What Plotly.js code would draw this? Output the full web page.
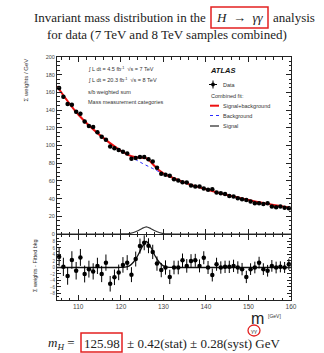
<!DOCTYPE html>
<html>
<head>
<meta charset="utf-8">
<script src="https://cdn.plot.ly/plotly-3.0.1.min.js"></script>
<style>html,body{margin:0;padding:0;background:#fff;}#chart{width:324px;height:353px;}</style>
</head>
<body>
<div id="chart"></div>
<script>
// ---- data ----
const massBins = [105.5,106.5,107.5,108.5,109.5,110.5,111.5,112.5,113.5,114.5,115.5,116.5,117.5,118.5,119.5,120.5,121.5,122.5,123.5,124.5,125.5,126.5,127.5,128.5,129.5,130.5,131.5,132.5,133.5,134.5,135.5,136.5,137.5,138.5,139.5,140.5,141.5,142.5,143.5,144.5,145.5,146.5,147.5,148.5,149.5,150.5,151.5,152.5,153.5,154.5,155.5,156.5,157.5,158.5,159.5];
const sumWeights = [165,155,147,146,138,136,127,122,121,115,110,106.5,99,97,95,93,91,85,86,87,87,84.6,82,75,68,67,65.7,62,60.4,58.5,58.2,54.8,53.6,53.6,51.4,49.9,50.6,46.8,46.1,45.3,43,42.3,40.4,39.3,38.5,36.6,34.7,34.7,34,34.7,31,30.2,31,29.8,29];
const sumWeightsErr = [2.2,2.1,2.1,2.1,2,2,2,1.9,1.9,1.9,1.8,1.8,1.8,1.7,1.7,1.7,1.7,1.6,1.6,1.6,1.6,1.6,1.6,1.5,1.5,1.5,1.5,1.5,1.4,1.4,1.4,1.4,1.4,1.4,1.3,1.3,1.3,1.3,1.3,1.3,1.3,1.2,1.2,1.2,1.2,1.2,1.2,1.2,1.2,1.2,1.1,1.1,1.1,1.1,1.1];
const residuals = [3.3,0.2,-2.6,2.3,-1.0,3.1,-2.0,-0.5,-1.2,0.5,-2.0,1.5,-5.0,-3.0,-1.5,0.8,1.5,-2.2,2.6,6.6,7.6,6.7,4.8,1.2,-0.8,0.0,-2.9,0.0,0.0,2.2,0.5,2.0,2.2,0.5,3.0,0.0,-2.3,1.0,0.0,0.2,0.2,0.5,0.0,-0.5,-2.9,-0.5,0.0,1.5,-0.5,-1.0,0.5,0.0,0.2,0.0,1.0];
const residualsErr = [2.8,2.8,2.7,2.7,2.7,2.6,2.6,2.6,2.5,2.5,2.5,2.5,2.4,2.4,2.4,2.4,2.3,2.3,2.3,2.3,2.3,2.3,2.2,2.2,2.2,2.2,2.2,2.1,2.1,2.1,2.1,2.1,2.0,2.0,2.0,2.0,2.0,2.0,1.9,1.9,1.9,1.9,1.9,1.9,1.9,1.8,1.8,1.8,1.8,1.8,1.8,1.8,1.7,1.7,1.7];

const bkgMass = [105,107.5,110,112.5,115,117.5,120,122.5,125,127.5,130,135,140,145,150,155,160];
const bkgValue = [167,150,135,123,112,102.5,94,86.9,80,74,68,58,50.5,44,38.5,33.5,29.5];
const sbMass = [105,110,115,120,121,122,123,124,125,126,127,128,129,130,131,135,140,145,150,155,160];
const sbValue = [167,135,112,94.1,91.3,88.8,87.2,86.5,86.3,85.6,81.5,76.5,72.1,68.5,66.1,58,50.5,44,38.5,33.5,29.5];
const sigMass = [105,119,120,121,122,123,124,125,126,127,128,129,130,131,132,133,160];
const sigValue = [0,0,0.02,0.1,0.5,1.7,3.7,6.3,8,6.3,3.7,1.7,0.5,0.1,0.02,0,0];

const xTickVals = [110,120,130,140,150,160];
const xTickText = ['110','120','130','140','150','160'];
const resTickVals = [-8,-6,-4,-2,0,2,4,6,8];

// ---- pixel helpers for decorations ----
const PL = 57, PR = 291, PT = 57, PB = 300;
const fx = p => (p - PL) / (PR - PL);
const fy = p => (PB - p) / (PB - PT);

const serif = 'Liberation Serif, Times New Roman, serif';
const sans = 'Liberation Sans, Arial, sans-serif';

const traces = [
  {x: bkgMass, y: bkgValue, xaxis: 'x2', yaxis: 'y2', mode: 'lines', line: {color: '#2b2bff', width: 1, dash: 'dot', shape: 'spline'}, hoverinfo: 'skip'},
  {x: sbMass, y: sbValue, xaxis: 'x2', yaxis: 'y2', mode: 'lines', line: {color: '#ee1111', width: 2, shape: 'spline'}, hoverinfo: 'skip'},
  {x: sigMass, y: sigValue, xaxis: 'x2', yaxis: 'y2', mode: 'lines', line: {color: '#333', width: 1.2, shape: 'spline', smoothing: 0.6}, hoverinfo: 'skip'},
  {x: massBins, y: sumWeights, xaxis: 'x2', yaxis: 'y2', mode: 'markers', marker: {color: '#000', size: 4.5},
   error_y: {type: 'data', array: sumWeightsErr, visible: true, color: '#000', thickness: 1, width: 0}},
  {x: sigMass, y: sigValue, xaxis: 'x', yaxis: 'y', mode: 'lines', line: {color: '#111', width: 1.3, shape: 'spline', smoothing: 0.6}, hoverinfo: 'skip'},
  {x: massBins, y: residuals, xaxis: 'x', yaxis: 'y', mode: 'markers', marker: {color: '#000', size: 4.5},
   error_y: {type: 'data', array: residualsErr, visible: true, color: '#000', thickness: 1, width: 0}}
];

const axisCommon = {ticks: 'inside', mirror: 'ticks', showline: true, linecolor: '#222', linewidth: 1,
  tickcolor: '#222', showgrid: false, zeroline: false, tickfont: {family: sans, size: 5.5, color: '#444'}};

const ann = (text, x, y, opt) => Object.assign({text: text, x: fx(x), y: fy(y), xref: 'paper', yref: 'paper',
  showarrow: false, xanchor: 'left', yanchor: 'middle', font: {family: sans, size: 5.5, color: '#333'}}, opt || {});

const annotations = [
  // title
  ann('Invariant mass distribution in the', 208, 17, {xanchor: 'right', font: {family: serif, size: 13, color: '#222'}}),
  ann('<i>H</i>  →  <i>γγ</i>', 239.5, 17, {xanchor: 'center', font: {family: serif, size: 13, color: '#222'}}),
  ann('analysis', 271, 17, {font: {family: serif, size: 13, color: '#222'}}),
  ann('for data (7 TeV and 8 TeV samples combined)', 167, 35, {xanchor: 'center', font: {family: serif, size: 13, color: '#222'}}),
  // bottom result
  ann('<i>m<sub>H</sub></i> =', 77, 343, {xanchor: 'right', font: {family: serif, size: 13, color: '#222'}}),
  ann('125.98', 101.7, 343, {xanchor: 'center', font: {family: serif, size: 13, color: '#222'}}),
  ann('± 0.42(stat) ± 0.28(syst) GeV', 125, 343, {font: {family: serif, size: 13, color: '#222'}}),
  // axis titles
  ann('m', 257, 318.5, {xanchor: 'center', font: {family: sans, size: 16, color: '#222'}}),
  ann('γγ', 254, 331, {xanchor: 'center', font: {family: sans, size: 6, color: '#555'}}),
  ann('[GeV]', 266, 316, {font: {family: sans, size: 5, color: '#333'}}),
  ann('Σ weights / GeV', 25, 57, {xanchor: 'center', yanchor: 'top', textangle: -90, font: {family: sans, size: 6, color: '#333'}}),
  ann('Σ weights - Fitted bkg', 35, 266, {xanchor: 'center', textangle: -90, font: {family: sans, size: 5.5, color: '#333'}}),
  // inner labels
  ann('∫ L dt = 4.5 fb<sup>-1</sup>  √s = 7 TeV', 86, 69),
  ann('∫ L dt = 20.3 fb<sup>-1</sup>  √s = 8 TeV', 86, 79.5),
  ann('s/b weighted sum', 86, 92),
  ann('Mass measurement categories', 86, 102),
  ann('<b><i>ATLAS</i></b>', 208, 70, {font: {family: sans, size: 7.5, color: '#111'}}),
  ann('Data', 221, 84.5),
  ann('Combined fit:', 209, 95.7),
  ann('Signal+background', 221, 105.7),
  ann('Background', 221, 115.5),
  ann('Signal', 221, 126)
];

const shapes = [
  // red boxes and circle
  {type: 'rect', xref: 'paper', yref: 'paper', x0: fx(211), x1: fx(268), y0: fy(28), y1: fy(7), line: {color: '#e32020', width: 1.5}},
  {type: 'rect', xref: 'paper', yref: 'paper', x0: fx(81), x1: fx(122), y0: fy(352), y1: fy(333), line: {color: '#e32020', width: 1.5}},
  {type: 'circle', xref: 'paper', yref: 'paper', x0: fx(248), x1: fx(260), y0: fy(336), y1: fy(325), line: {color: '#e32020', width: 1.3}},
  // legend glyphs
  {type: 'line', xref: 'paper', yref: 'paper', x0: fx(213), x1: fx(213), y0: fy(80.5), y1: fy(88.5), line: {color: '#000', width: 1}},
  {type: 'line', xref: 'paper', yref: 'paper', x0: fx(209), x1: fx(217), y0: fy(84.5), y1: fy(84.5), line: {color: '#000', width: 1}},
  {type: 'circle', xref: 'paper', yref: 'paper', x0: fx(211.3), x1: fx(214.7), y0: fy(86.2), y1: fy(82.8), fillcolor: '#000', line: {color: '#000', width: 0.5}},
  {type: 'line', xref: 'paper', yref: 'paper', x0: fx(210), x1: fx(219), y0: fy(105.7), y1: fy(105.7), line: {color: '#ee1111', width: 2}},
  {type: 'line', xref: 'paper', yref: 'paper', x0: fx(210), x1: fx(219), y0: fy(115.5), y1: fy(115.5), line: {color: '#2b2bff', width: 1, dash: 'dot'}},
  {type: 'line', xref: 'paper', yref: 'paper', x0: fx(210), x1: fx(219), y0: fy(126), y1: fy(126), line: {color: '#333', width: 1.3}}
];

const layout = {
  width: 324, height: 353,
  margin: {l: PL, r: 324 - PR, t: PT, b: 353 - PB, pad: 0},
  paper_bgcolor: '#fff', plot_bgcolor: '#fff',
  showlegend: false,
  xaxis: Object.assign({}, axisCommon, {domain: [0, 1], anchor: 'y', range: [105, 160], tickvals: xTickVals, ticktext: xTickText,
    ticklen: 5, tickfont: {family: sans, size: 6.5, color: '#444'}, minor: {ticks: 'inside', ticklen: 2.5, dtick: 2, tickcolor: '#222'}}),
  yaxis: Object.assign({}, axisCommon, {domain: [0, 0.2675], anchor: 'x', range: [-10, 10], tickvals: resTickVals, ticklen: 4,
    tickfont: {family: sans, size: 4.5, color: '#555'}, minor: {ticks: 'inside', ticklen: 2, dtick: 1, tickcolor: '#222'}}),
  xaxis2: Object.assign({}, axisCommon, {domain: [0, 1], anchor: 'y2', matches: 'x', range: [105, 160], tickvals: xTickVals,
    showticklabels: false, ticklen: 5, minor: {ticks: 'inside', ticklen: 2.5, dtick: 2, tickcolor: '#222'}}),
  yaxis2: Object.assign({}, axisCommon, {domain: [0.2716, 1], anchor: 'x2', range: [0, 200], dtick: 20, ticklen: 5,
    minor: {ticks: 'inside', ticklen: 2.5, dtick: 5, tickcolor: '#222'}}),
  annotations: annotations,
  shapes: shapes
};

Plotly.newPlot('chart', traces, layout, {displayModeBar: false, staticPlot: true});
</script>
</body>
</html>
